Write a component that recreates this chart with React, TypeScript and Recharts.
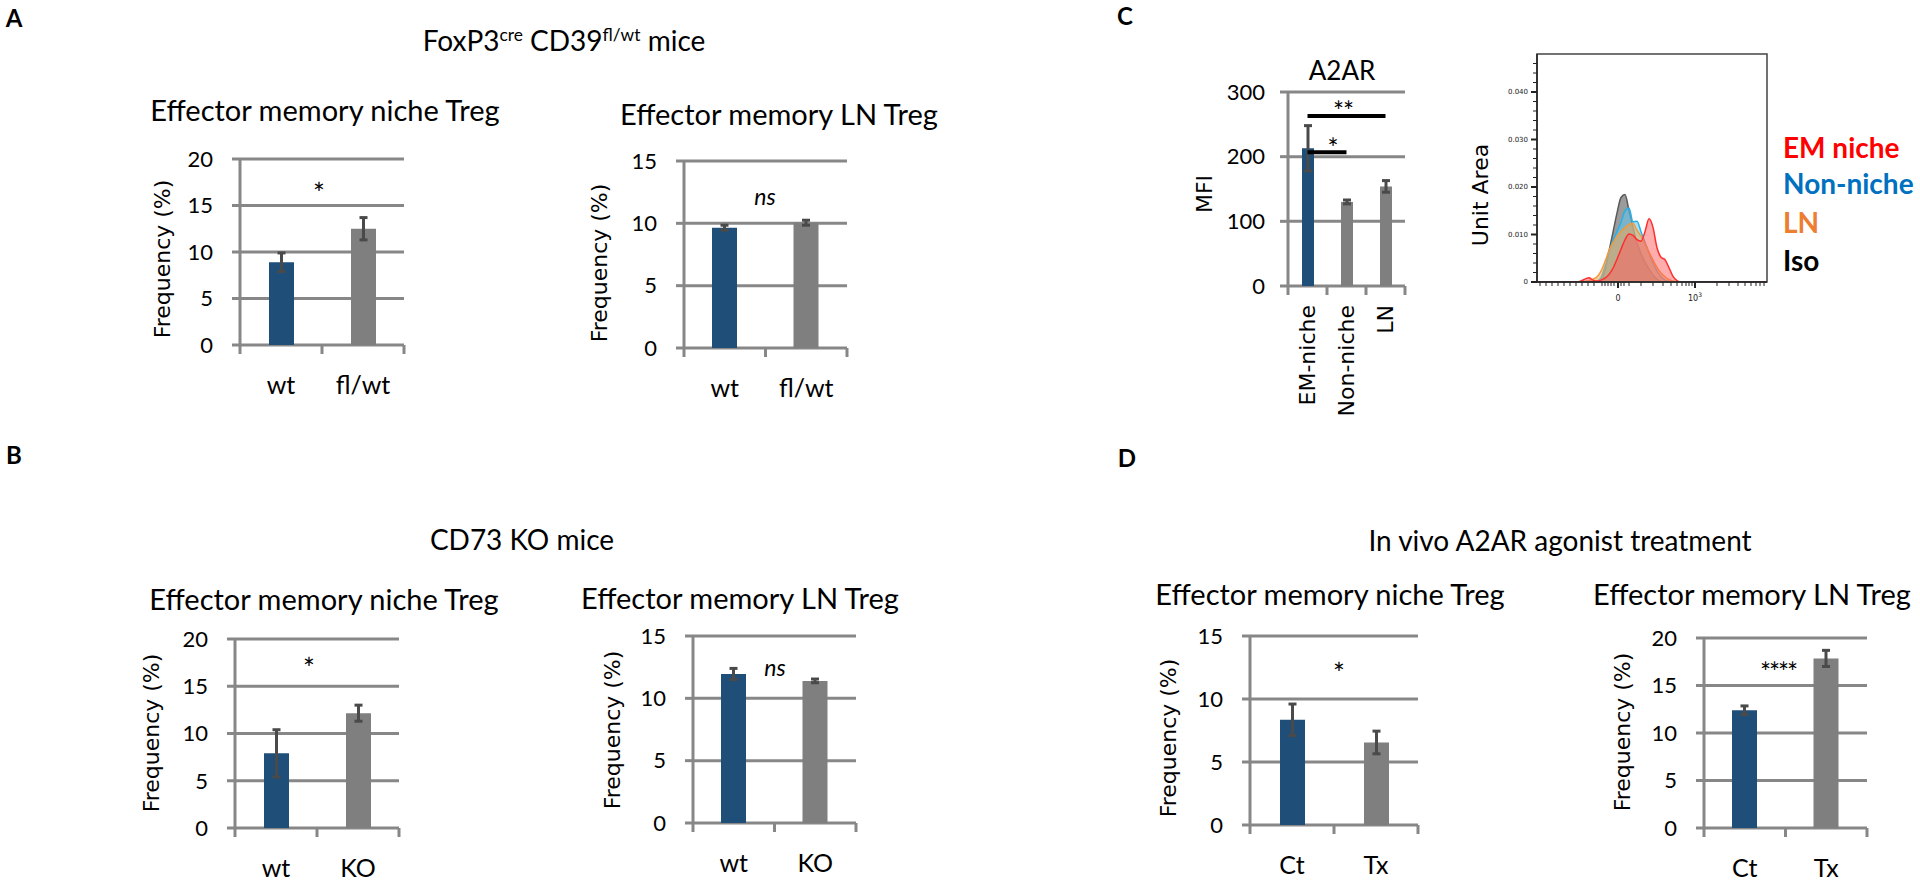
import React from "react";
import {
  BarChart,
  Bar,
  XAxis,
  YAxis,
  CartesianGrid,
  ErrorBar,
  Cell,
  ReferenceLine,
  ReferenceArea,
  AreaChart,
  Area,
} from "recharts";

// ---- bar panels ----
const aLeftCats = ["wt", "fl/wt"];
const aLeftVals = [8.9, 12.5];
const aLeftErr = [1.0, 1.2];

const aRightCats = ["wt", "fl/wt"];
const aRightVals = [9.65, 10.05];
const aRightErr = [0.2, 0.2];

const bCats = ["wt", "KO"];
const bLeftVals = [7.9, 12.15];
const bLeftErr = [2.5, 0.85];
const bRightVals = [11.95, 11.4];
const bRightErr = [0.45, 0.15];

const cCats = ["EM-niche", "Non-niche", "LN"];
const cVals = [213, 130, 154];
const cErr = [35, 3, 9];
const cSigPairs = [
  ["EM-niche", "LN"],
  ["EM-niche", "Non-niche"],
];
const cSigLevels = [263, 207];

const dCats = ["Ct", "Tx"];
const dLeftVals = [8.35, 6.55];
const dLeftErr = [1.25, 0.9];
const dRightVals = [12.4, 17.85];
const dRightErr = [0.45, 0.85];

const ticks20 = [0, 5, 10, 15, 20];
const ticks15 = [0, 5, 10, 15];
const ticks300 = [0, 100, 200, 300];

// ---- flow histogram (panel C) ----
const histX = [0, 40, 44, 48, 52, 56, 60, 64, 68, 72, 76, 80, 84, 88, 92, 96, 100, 104, 108, 112, 116, 120, 124, 128, 132, 136, 140, 144, 148, 152, 230];
const isoY = [0, 0, 0, 0, 0, 0, 0, 0.0004, 0.0025, 0.0065, 0.0105, 0.0145, 0.0178, 0.0184, 0.015, 0.0115, 0.0082, 0.006, 0.0042, 0.0028, 0.0015, 0.0006, 0.0001, 0, 0, 0, 0, 0, 0, 0, 0];
const nonNicheY = [0, 0, 0, 0, 0, 0, 0.0002, 0.0009, 0.0032, 0.0062, 0.0088, 0.0106, 0.0126, 0.015, 0.0156, 0.0127, 0.0128, 0.0106, 0.0083, 0.0061, 0.004, 0.0023, 0.0011, 0.0004, 0.0001, 0, 0, 0, 0, 0, 0];
const lnY = [0, 0, 0, 0.0001, 0.0003, 0.0006, 0.0011, 0.0023, 0.0043, 0.0066, 0.0083, 0.0096, 0.0106, 0.0114, 0.0121, 0.0123, 0.0109, 0.0096, 0.0081, 0.0063, 0.0046, 0.0031, 0.0019, 0.0011, 0.0005, 0.0002, 0, 0, 0, 0, 0];
const emNicheY = [0, 0, 0.0002, 0.0006, 0.0009, 0.0004, 0.0002, 0.0004, 0.0008, 0.0016, 0.0029, 0.0048, 0.0069, 0.0089, 0.0101, 0.0098, 0.0089, 0.0086, 0.0106, 0.0133, 0.0115, 0.0072, 0.0052, 0.0047, 0.003, 0.0012, 0.0003, 0, 0, 0, 0];

const histYTicks = [0, 0.002, 0.004, 0.006, 0.008, 0.01, 0.012, 0.014, 0.016, 0.018, 0.02, 0.022, 0.024, 0.026, 0.028, 0.03, 0.032, 0.034, 0.036, 0.038, 0.04, 0.042, 0.044, 0.046];
const histYLabels = ["0", "", "", "", "", "0.010", "", "", "", "", "0.020", "", "", "", "", "0.030", "", "", "", "", "0.040", "", "", ""];
const histXTicks = [3, 9, 15, 21, 27, 33, 39, 45, 51, 57, 65, 68, 71, 74, 77, 81, 84, 87, 92, 104, 116, 126, 134, 140, 145, 149, 152, 155, 158, 180, 192, 201, 208, 214, 219, 223, 227];
const histXLabels = ["", "", "", "", "", "", "", "", "", "", "", "", "", "", "", "0", "", "", "", "", "", "", "", "", "", "", "", "", "10", "", "", "", "", "", "", "", ""];

const GRID = "#878787";
const BLUE = "#1f4e79";
const GREY = "#7f7f7f";
const SANS = "Lato, 'Open Sans', sans-serif";
const WIDE = "'DejaVu Sans', Verdana, sans-serif";

type BarPanelProps = {
  left: number;
  top: number;
  width: number;
  height: number;
  cats: string[];
  vals: number[];
  errs: number[];
  max: number;
  ticks: number[];
  barSize: number;
  rotateLabels?: boolean;
  children?: React.ReactNode;
};

function BarPanel(p: BarPanelProps) {
  const yw = 80;
  const mt = 20;
  const mr = 12;
  const xh = p.rotateLabels ? 140 : 60;
  const n = p.cats.length;
  const bw = p.width / n;
  const data = p.cats.map((c, i) => ({ name: c, value: p.vals[i], err: p.errs[i] }));

  const tick = (t: any) => {
    const { x, y, payload, index } = t;
    return (
      <g>
        <line x1={x - bw / 2} y1={y} x2={x - bw / 2} y2={y + 9} stroke={GRID} strokeWidth={3} />
        {index === n - 1 && (
          <line x1={x + bw / 2} y1={y} x2={x + bw / 2} y2={y + 9} stroke={GRID} strokeWidth={3} />
        )}
        {p.rotateLabels ? (
          <text
            x={x}
            y={y + 19}
            transform={`rotate(-90, ${x}, ${y + 19})`}
            textAnchor="end"
            dominantBaseline="central"
            fontFamily={WIDE}
            fontSize={22}
            fill="#000"
          >
            {payload.value}
          </text>
        ) : (
          <text x={x} y={y + 39} textAnchor="middle" dominantBaseline="central" fontFamily={SANS} fontSize={25} fill="#000">
            {payload.value}
          </text>
        )}
      </g>
    );
  };

  return (
    <div style={{ position: "absolute", left: p.left - yw, top: p.top - mt }}>
      <BarChart
        width={yw + p.width + mr}
        height={mt + p.height + xh}
        data={data}
        margin={{ top: mt, right: mr, bottom: 0, left: 0 }}
      >
        <CartesianGrid vertical={false} stroke={GRID} strokeWidth={3} />
        <XAxis dataKey="name" axisLine={false} tickLine={false} tickSize={0} tickMargin={0} interval={0} height={xh} tick={tick} />
        <YAxis
          width={yw}
          domain={[0, p.max]}
          ticks={p.ticks}
          interval={0}
          axisLine={{ stroke: GRID, strokeWidth: 3 }}
          tickLine={{ stroke: GRID, strokeWidth: 3 }}
          tickSize={8}
          tickMargin={p.rotateLabels ? 15 : 19}
          tick={{ fill: "#000", fontSize: 22, fontFamily: SANS }}
        />
        <Bar dataKey="value" barSize={p.barSize} isAnimationActive={false}>
          {data.map((d, i) => (
            <Cell key={d.name} fill={i === 0 ? BLUE : GREY} />
          ))}
          <ErrorBar dataKey="err" width={4} strokeWidth={3} stroke="#4a4a4a" direction="y" />
        </Bar>
        {p.children}
      </BarChart>
    </div>
  );
}

function Histogram() {
  const data = histX.map((x, i) => ({ x, iso: isoY[i], non: nonNicheY[i], ln: lnY[i], em: emNicheY[i] }));
  const yw = 50;
  const mt = 5;
  const xh = 30;
  const mr = 5;
  const w = 230;
  const h = 228;

  const yTick = (t: any) => {
    const { x, y, index } = t;
    const label = histYLabels[index];
    const major = label !== "";
    return (
      <g>
        <line x1={x - (major ? 6 : 4)} y1={y} x2={x} y2={y} stroke="#222" strokeWidth={major ? 2 : 1} />
        {major && (
          <text x={x - 9} y={y} textAnchor="end" dominantBaseline="central" fontSize={7} fontFamily={WIDE} fill="#222">
            {label}
          </text>
        )}
      </g>
    );
  };

  const xTick = (t: any) => {
    const { x, y, index } = t;
    const label = histXLabels[index];
    const major = label !== "";
    return (
      <g>
        <line x1={x} y1={y} x2={x} y2={y + (major ? 6 : 4)} stroke="#222" strokeWidth={major ? 2 : 1} />
        {major && (
          <text x={x} y={y + 16} textAnchor="middle" dominantBaseline="central" fontSize={8} fontFamily={WIDE} fill="#222">
            {label}
            {label === "10" && (
              <tspan dy={-4} fontSize={6}>
                3
              </tspan>
            )}
          </text>
        )}
      </g>
    );
  };

  return (
    <div style={{ position: "absolute", left: 1537 - yw, top: 54 - mt }}>
      <AreaChart width={yw + w + mr} height={mt + h + xh} data={data} margin={{ top: mt, right: mr, bottom: 0, left: 0 }}>
        <XAxis
          dataKey="x"
          type="number"
          domain={[0, 230]}
          allowDataOverflow
          ticks={histXTicks}
          interval={0}
          tickSize={0}
          tickMargin={0}
          height={xh}
          tick={xTick}
          axisLine={{ stroke: "#222", strokeWidth: 1.5 }}
          tickLine={false}
        />
        <YAxis
          type="number"
          domain={[0, 0.048]}
          allowDataOverflow
          ticks={histYTicks}
          interval={0}
          width={yw}
          tickSize={0}
          tickMargin={0}
          tick={yTick}
          axisLine={{ stroke: "#222", strokeWidth: 1.5 }}
          tickLine={false}
        />
        <Area type="monotone" dataKey="iso" stroke="#5a5a5a" strokeWidth={1.5} fill="#8a8a8a" fillOpacity={0.85} isAnimationActive={false} />
        <Area type="monotone" dataKey="non" stroke="#2ab0e6" strokeWidth={1.5} fill="#5cc8f0" fillOpacity={0.55} isAnimationActive={false} />
        <Area type="monotone" dataKey="ln" stroke="#f39a3a" strokeWidth={1.5} fill="#f2a55a" fillOpacity={0.55} isAnimationActive={false} />
        <Area type="monotone" dataKey="em" stroke="#ff2e2e" strokeWidth={1.5} fill="#ff5c5c" fillOpacity={0.5} isAnimationActive={false} />
        <ReferenceArea x1={0} x2={230} y1={0} y2={0.048} fill="none" stroke="#444" strokeWidth={1.5} ifOverflow="visible" />
      </AreaChart>
    </div>
  );
}

type TProps = {
  x: number;
  y: number;
  size?: number;
  family?: string;
  weight?: number;
  italic?: boolean;
  color?: string;
  anchor?: "start" | "middle";
  rotate?: boolean;
  spacing?: number;
  children: React.ReactNode;
};

function T({ x, y, size = 22, family = SANS, weight = 400, italic = false, color = "#000", anchor = "middle", rotate = false, spacing = 0, children }: TProps) {
  const tx = anchor === "middle" ? "-50%" : "0";
  return (
    <div
      style={{
        position: "absolute",
        left: x,
        top: y,
        transform: `translate(${tx}, -50%)${rotate ? " rotate(-90deg)" : ""}`,
        fontFamily: family,
        fontSize: size,
        fontWeight: weight,
        fontStyle: italic ? "italic" : "normal",
        letterSpacing: spacing,
        color,
        lineHeight: 1,
        whiteSpace: "nowrap",
      }}
    >
      {children}
    </div>
  );
}

const sup: React.CSSProperties = { fontSize: "0.62em", position: "relative", top: "-0.55em" };

export default function App() {
  return (
    <div style={{ position: "absolute", left: 0, top: 0, width: 1920, height: 881, background: "#fff", overflow: "hidden" }}>
      {/* panel letters */}
      <T x={14} y={18} size={24} weight={700}>A</T>
      <T x={14} y={455} size={24} weight={700}>B</T>
      <T x={1125} y={16} size={24} weight={700}>C</T>
      <T x={1127} y={458} size={24} weight={700}>D</T>

      {/* group titles */}
      <T x={564} y={40} size={28}>
        FoxP3<span style={sup}>cre</span> CD39<span style={sup}>fl/wt</span> mice
      </T>
      <T x={522} y={539} size={28}>CD73 KO mice</T>
      <T x={1560} y={540} size={28}>In vivo A2AR agonist treatment</T>

      {/* subtitles */}
      <T x={325} y={109} size={29}>Effector memory niche Treg</T>
      <T x={779} y={113} size={29}>Effector memory LN Treg</T>
      <T x={324} y={598} size={29}>Effector memory niche Treg</T>
      <T x={740} y={597} size={29}>Effector memory LN Treg</T>
      <T x={1330} y={593} size={29}>Effector memory niche Treg</T>
      <T x={1752} y={593} size={29}>Effector memory LN Treg</T>
      <T x={1342} y={70} size={26}>A2AR</T>

      {/* axis titles */}
      <T x={163} y={259} family={WIDE} rotate>Frequency (%)</T>
      <T x={600} y={263} family={WIDE} rotate>Frequency (%)</T>
      <T x={152} y={733} family={WIDE} rotate>Frequency (%)</T>
      <T x={613} y={730} family={WIDE} rotate>Frequency (%)</T>
      <T x={1169} y={738} family={WIDE} rotate>Frequency (%)</T>
      <T x={1623} y={732} family={WIDE} rotate>Frequency (%)</T>
      <T x={1205} y={194} family={WIDE} rotate>MFI</T>
      <T x={1481} y={195} family={WIDE} rotate>Unit Area</T>

      {/* significance marks */}
      <T x={319} y={193} size={28}>*</T>
      <T x={765} y={196} size={23} italic>ns</T>
      <T x={309} y={668} size={28}>*</T>
      <T x={775} y={667} size={23} italic>ns</T>
      <T x={1339} y={673} size={28}>*</T>
      <T x={1778} y={672} size={26} spacing={-2}>****</T>
      <T x={1343} y={111} size={26} spacing={-1}>**</T>
      <T x={1333} y={148} size={26}>*</T>

      {/* histogram legend */}
      <T x={1783} y={147} size={28} weight={700} color="#ff0000" anchor="start">EM niche</T>
      <T x={1783} y={183} size={28} weight={700} color="#0070c0" anchor="start">Non-niche</T>
      <T x={1783} y={222} size={28} weight={700} color="#ed7d31" anchor="start">LN</T>
      <T x={1783} y={260} size={28} weight={700} color="#000" anchor="start">Iso</T>

      <BarPanel left={240} top={159} width={164} height={186} cats={aLeftCats} vals={aLeftVals} errs={aLeftErr} max={20} ticks={ticks20} barSize={25} />
      <BarPanel left={684} top={161} width={163} height={187} cats={aRightCats} vals={aRightVals} errs={aRightErr} max={15} ticks={ticks15} barSize={25} />
      <BarPanel left={235} top={639} width={164} height={189} cats={bCats} vals={bLeftVals} errs={bLeftErr} max={20} ticks={ticks20} barSize={25} />
      <BarPanel left={693} top={636} width={163} height={187} cats={bCats} vals={bRightVals} errs={bRightErr} max={15} ticks={ticks15} barSize={25} />
      <BarPanel left={1288} top={92} width={117} height={194} cats={cCats} vals={cVals} errs={cErr} max={300} ticks={ticks300} barSize={12} rotateLabels>
        {cSigPairs.map((pair, i) => (
          <ReferenceLine
            key={pair.join("-")}
            segment={[
              { x: pair[0], y: cSigLevels[i] },
              { x: pair[1], y: cSigLevels[i] },
            ]}
            stroke="#000"
            strokeWidth={4}
            ifOverflow="visible"
          />
        ))}
      </BarPanel>
      <BarPanel left={1250} top={636} width={168} height={189} cats={dCats} vals={dLeftVals} errs={dLeftErr} max={15} ticks={ticks15} barSize={25} />
      <BarPanel left={1704} top={638} width={163} height={190} cats={dCats} vals={dRightVals} errs={dRightErr} max={20} ticks={ticks20} barSize={25} />

      <Histogram />
    </div>
  );
}
